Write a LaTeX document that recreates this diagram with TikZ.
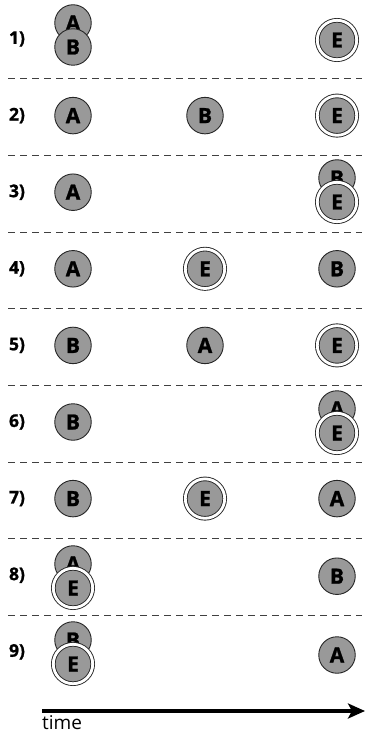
\documentclass[tikz,border=0pt]{standalone}
\usepackage{fontspec}
\setmainfont{Open Sans}
\newfontfamily\heavyfont{Open Sans}[BoldFeatures={FakeBold=1.2}]
\usetikzlibrary{arrows.meta}

\tikzset{
  token/.style={circle, draw=black!85, line width=0.9pt, fill=black!40,
    minimum size=36.5pt, inner sep=0pt,
    font=\heavyfont\fontsize{21}{21}\selectfont\bfseries},
  evtoken/.style={token, double=white, double distance=2.8pt,
    minimum size=39.4pt},
  rowlabel/.style={font=\heavyfont\fontsize{17.5}{17.5}\selectfont\bfseries},
  separator/.style={dash pattern=on 7pt off 5pt, line width=0.9pt, black!75},
}

\begin{document}
\begin{tikzpicture}[x=1pt,y=-1pt]
  \useasboundingbox (0,0) rectangle (365,738);
  \def\xL{73}    % first column
  \def\xM{205}   % middle column
  \def\xR{337}   % last column
  \def\up{12}    % shift of the upper token in a stacked pair
  \def\dn{12}    % shift of the lower token in a stacked pair

  % dashed separators between the rows
  \foreach \y in {78,155,232,308,385,462,538,615}
    \draw[separator] (8,\y) -- (362,\y);

  % row numbers
  \foreach \r [evaluate=\r as \y using {39+76.6*(\r-1)}] in {1,...,9}
    \node[rowlabel] (lab\r) at (17,\y) {\r)};

  % 1)
  \node[token]   (a1) at (\xL,35-\up) {A};
  \node[token]   (b1) at (\xL,35+\dn) {B};
  \node[evtoken] (e1) at (\xR,40) {E};
  % 2)
  \node[token]   (a2) at (\xL,115.6) {A};
  \node[token]   (b2) at (\xM,115.6) {B};
  \node[evtoken] (e2) at (\xR,115.6) {E};
  % 3)
  \node[token]   (a3) at (\xL,192.2) {A};
  \node[token]   (b3) at (\xR,190-\up) {B};
  \node[evtoken] (e3) at (\xR,190+\dn) {E};
  % 4)
  \node[token]   (a4) at (\xL,268.8) {A};
  \node[evtoken] (e4) at (\xM,268.8) {E};
  \node[token]   (b4) at (\xR,268.8) {B};
  % 5)
  \node[token]   (b5) at (\xL,345.4) {B};
  \node[token]   (a5) at (\xM,345.4) {A};
  \node[evtoken] (e5) at (\xR,345.4) {E};
  % 6)
  \node[token]   (b6) at (\xL,422) {B};
  \node[token]   (a6) at (\xR,421-\up) {A};
  \node[evtoken] (e6) at (\xR,421+\dn) {E};
  % 7)
  \node[token]   (b7) at (\xL,498.6) {B};
  \node[evtoken] (e7) at (\xM,498.6) {E};
  \node[token]   (a7) at (\xR,498.6) {A};
  % 8)
  \node[token]   (a8) at (\xL,576-\up) {A};
  \node[evtoken] (e8) at (\xL,576+\dn) {E};
  \node[token]   (b8) at (\xR,576.2) {B};
  % 9)
  \node[token]   (b9) at (\xL,652-\up) {B};
  \node[evtoken] (e9) at (\xL,652+\dn) {E};
  \node[token]   (a9) at (\xR,655) {A};

  % time axis
  \coordinate (tstart) at (42,711);
  \coordinate (tend) at (365,711);
  \draw[line width=3.2pt, -{Stealth[length=17pt,width=15pt,inset=4pt]}]
    (tstart) -- (tend);
  \node[anchor=north west, inner sep=0pt, font=\fontsize{19}{19}\selectfont]
    (time) at (42,715) {time};
\end{tikzpicture}
\end{document}
